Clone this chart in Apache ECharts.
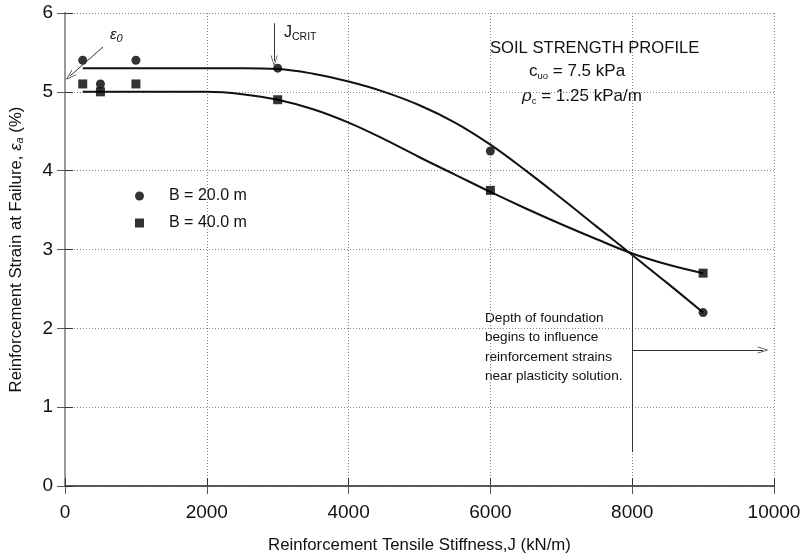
<!DOCTYPE html>
<html>
<head>
<meta charset="utf-8">
<script src="https://cdn.jsdelivr.net/npm/echarts@6/dist/echarts.min.js"></script>
<style>
  html, body { margin: 0; padding: 0; background: #fff; }
  #chart { width: 804px; height: 556px; }
</style>
</head>
<body>
<div id="chart"></div>
<script>
// measured points (J in kN/m, strain in %)
const stiffness = [250, 500, 1000, 3000, 6000, 9000]
const strainB20 = [5.4, 5.1, 5.4, 5.3, 4.25, 2.2]
const strainB40 = [5.1, 5.0, 5.1, 4.9, 3.75, 2.7]

// fitted curves
const fitJ = [250, 1000, 2000, 2500, 3000, 3500, 4000, 4500, 5000, 5500, 6000, 6500, 7000, 7500, 8000, 8500, 9000]
const fitB20 = [5.3, 5.3, 5.3, 5.3, 5.29, 5.23, 5.13, 5.0, 4.83, 4.61, 4.33, 4.0, 3.65, 3.29, 2.93, 2.57, 2.2]
const fitB40 = [5.0, 5.0, 5.0, 4.97, 4.9, 4.78, 4.61, 4.4, 4.17, 3.95, 3.73, 3.52, 3.32, 3.13, 2.95, 2.81, 2.7]

const xTicks = [0, 2000, 4000, 6000, 8000, 10000]
const yTicks = [0, 1, 2, 3, 4, 5, 6]

const seriesNames = ['B = 20.0 m', 'B = 40.0 m']

let myChart = echarts.init(document.getElementById('chart'))
const font = 'Liberation Sans, Arial, sans-serif'
const ink = '#111'
// open arrow head
const openArrow = 'path://M0,10 L5,0 L10,10 L9,10 L5,2 L1,10 Z'

const zip = (a, b) => a.map((v, i) => [v, b[i]])

// mirrored axes on top / right: only the frame and inside ticks
const frameAxis = {
    axisTick: { show: true, inside: true, length: 8, lineStyle: { color: '#555' } },
    splitLine: { show: false },
    axisLabel: { show: false }
}

myChart.setOption({
    animation: false,
    backgroundColor: '#fff',
    textStyle: { fontFamily: font },
    grid: { left: 65, top: 13, width: 709, height: 473, containLabel: false, outerBoundsMode: 'none' },
    legend: {
        orient: 'vertical',
        left: 130,
        top: 183,
        itemWidth: 9,
        itemHeight: 9,
        itemGap: 11,
        data: [
            { name: seriesNames[0], icon: 'circle' },
            { name: seriesNames[1], icon: 'rect' }
        ],
        textStyle: { fontSize: 16, color: ink, fontFamily: font, padding: [0, 0, 0, 20] }
    },
    xAxis: [{
        type: 'value',
        min: xTicks[0],
        max: xTicks[xTicks.length - 1],
        interval: 2000,
        name: 'Reinforcement Tensile Stiffness,J (kN/m)',
        nameLocation: 'middle',
        nameGap: 51,
        nameTextStyle: { fontSize: 16.8, color: ink },
        axisLine: { show: true, lineStyle: { color: '#333', width: 1.5 } },
        axisTick: { show: true, inside: true, length: 8, lineStyle: { color: '#333' } },
        axisLabel: { fontSize: 19, color: ink, margin: 17, formatter: v => String(v) },
        splitLine: { show: true, lineStyle: { type: [1, 2], color: '#888' } }
    }, Object.assign({
        type: 'value', position: 'top', min: 0, max: 10000, interval: 2000,
        axisLine: { show: true, lineStyle: { color: '#555', width: 1.5 } }
    }, frameAxis)],
    yAxis: [{
        type: 'value',
        min: yTicks[0],
        max: yTicks[yTicks.length - 1],
        interval: 1,
        name: 'Reinforcement Strain at Failure, {e|ε}{s|a} (%)',
        nameLocation: 'middle',
        nameRotate: 90,
        nameGap: 40,
        nameTextStyle: {
            fontSize: 16.8,
            color: ink,
            rich: {
                e: { fontSize: 16.8, fontStyle: 'italic', color: ink },
                s: { fontSize: 11, fontStyle: 'italic', color: ink, padding: [6, 0, 0, 0] }
            }
        },
        axisLine: { show: true, lineStyle: { color: '#333', width: 1.5 } },
        axisTick: { show: true, inside: true, length: 8, lineStyle: { color: '#333' } },
        axisLabel: { fontSize: 19, color: ink, margin: 12 },
        splitLine: { show: true, lineStyle: { type: [1, 2], color: '#888' } }
    }, Object.assign({
        type: 'value', position: 'right', min: 0, max: 6, interval: 1,
        axisLine: { show: true, lineStyle: { color: '#999', width: 2 } }
    }, frameAxis)],
    series: [
        {
            name: 'fit20',
            type: 'line',
            data: zip(fitJ, fitB20),
            smooth: 0.4,
            symbol: 'none',
            lineStyle: { color: ink, width: 2 },
            z: 2,
            markLine: {
                silent: true,
                symbol: ['none', openArrow],
                symbolSize: [7, 11],
                label: { show: false },
                lineStyle: { color: '#333', width: 1, type: 'solid' },
                data: [
                    // J_CRIT arrow
                    [{ coord: [2950, 5.87] }, { coord: [2950, 5.39] }],
                    // epsilon_0 arrow
                    [{ coord: [536, 5.57] }, { coord: [70, 5.2] }],
                    // plasticity arrow
                    [{ coord: [8000, 1.725] }, { coord: [9845, 1.725] }],
                    // vertical depth line
                    [{ coord: [8000, 2.93], symbol: 'none' }, { coord: [8000, 0.43], symbol: 'none' }]
                ]
            }
        },
        {
            name: 'fit40',
            type: 'line',
            data: zip(fitJ, fitB40),
            smooth: 0.4,
            symbol: 'none',
            lineStyle: { color: ink, width: 2 },
            z: 2
        },
        {
            name: seriesNames[0],
            type: 'scatter',
            data: zip(stiffness, strainB20),
            symbol: 'circle',
            symbolSize: 9,
            itemStyle: { color: '#000' },
            z: 3
        },
        {
            name: seriesNames[1],
            type: 'scatter',
            data: zip(stiffness, strainB40),
            symbol: 'rect',
            symbolSize: 9,
            itemStyle: { color: '#000' },
            z: 3
        }
    ],
    graphic: [
        {
            type: 'text', left: 110, top: 27,
            style: {
                text: '{e|ε}{s|0}',
                rich: {
                    e: { fontSize: 15, fontStyle: 'italic', fontFamily: font, fill: ink },
                    s: { fontSize: 11, fontStyle: 'italic', fontFamily: font, fill: ink, padding: [8, 0, 0, 0] }
                }
            }
        },
        {
            type: 'text', left: 284, top: 25,
            style: {
                text: '{j|J}{s|CRIT}',
                rich: {
                    j: { fontSize: 16, fontFamily: font, fill: ink },
                    s: { fontSize: 10.5, fontFamily: font, fill: ink, padding: [8, 0, 0, 0] }
                }
            }
        },
        {
            type: 'text', left: 490, top: 40,
            style: { text: 'SOIL STRENGTH PROFILE', fontSize: 16.6, fontFamily: font, fill: ink }
        },
        {
            type: 'text', left: 529, top: 63,
            style: {
                text: '{t|c}{s|uo}{t| = 7.5 kPa}',
                rich: {
                    t: { fontSize: 17, fontFamily: font, fill: ink },
                    s: { fontSize: 9.5, fontFamily: font, fill: ink, padding: [9, 0, 0, 0] }
                }
            }
        },
        {
            type: 'text', left: 522, top: 88,
            style: {
                text: '{r|ρ}{s|c}{t| = 1.25 kPa/m}',
                rich: {
                    r: { fontSize: 17, fontStyle: 'italic', fontFamily: font, fill: ink },
                    t: { fontSize: 17, fontFamily: font, fill: ink },
                    s: { fontSize: 9.5, fontFamily: font, fill: ink, padding: [9, 0, 0, 0] }
                }
            }
        },
        {
            type: 'text', left: 485, top: 308,
            style: {
                text: 'Depth of foundation\nbegins to influence\nreinforcement strains\nnear plasticity solution.',
                fontSize: 13.6, lineHeight: 19.5, fontFamily: font, fill: ink
            }
        }
    ]
})
window.addEventListener('resize', function () {
    myChart.resize()
})
</script>
</body>
</html>
